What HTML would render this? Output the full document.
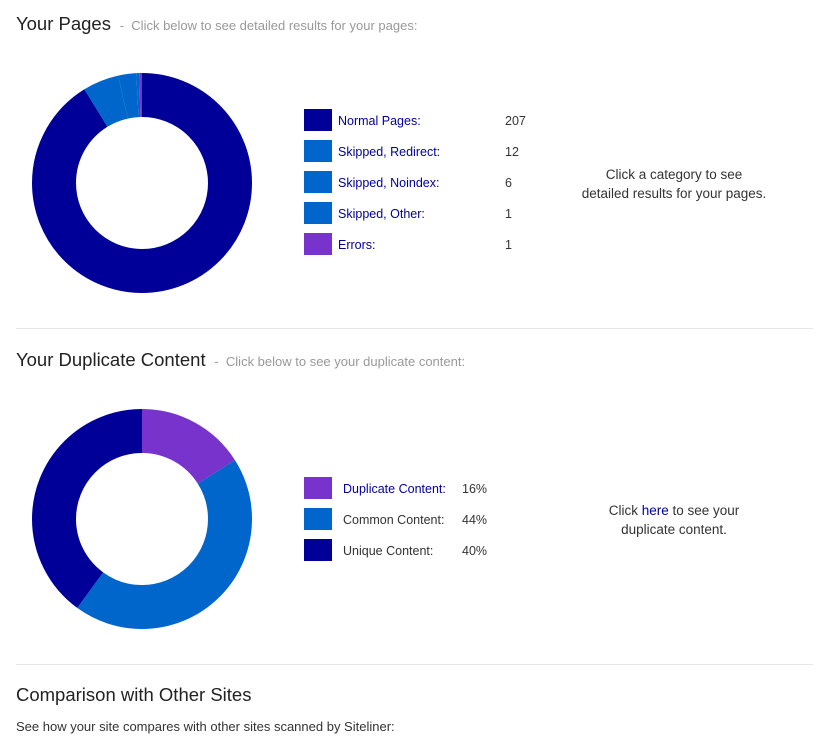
<!DOCTYPE html>
<html><head><style>
body{margin:0;width:832px;height:748px;background:#fff;font-family:"Liberation Sans",sans-serif;color:#333;position:relative;overflow:hidden}
.a{position:absolute;white-space:nowrap}
.sub{font-size:13px;color:#999}
.sq{position:absolute;width:28px;height:22px}
.t{font-size:12.5px}
.lk{color:#000099}
.hr{position:absolute;left:16px;width:797px;height:1px;background:#e6e6e6}
</style></head><body>
<div class="a" style="left:16px;top:13px;font-size:18.5px;color:#222">Your Pages <span class="sub">&nbsp;-&nbsp; Click below to see detailed results for your pages:</span></div>
<svg class="a" style="left:0;top:0" width="832" height="748">
<g transform="rotate(-90 142 183)" fill="none" stroke-width="44">
<circle cx="142" cy="183" r="88" stroke="#000099" stroke-dasharray="504.21 600" stroke-dashoffset="0"/>
<circle cx="142" cy="183" r="88" stroke="#0066cc" stroke-dasharray="29.23 600" stroke-dashoffset="-504.21"/>
<circle cx="142" cy="183" r="88" stroke="#0066cc" stroke-dasharray="14.61 600" stroke-dashoffset="-533.44"/>
<circle cx="142" cy="183" r="88" stroke="#0066cc" stroke-dasharray="2.44 600" stroke-dashoffset="-548.05"/>
<circle cx="142" cy="183" r="88" stroke="#7733cc" stroke-dasharray="2.44 600" stroke-dashoffset="-550.49"/>
</g>
<g transform="rotate(-90 142 519)" fill="none" stroke-width="44">
<circle cx="142" cy="519" r="88" stroke="#7733cc" stroke-dasharray="88.47 600" stroke-dashoffset="0"/>
<circle cx="142" cy="519" r="88" stroke="#0066cc" stroke-dasharray="243.28 600" stroke-dashoffset="-88.47"/>
<circle cx="142" cy="519" r="88" stroke="#000099" stroke-dasharray="221.17 600" stroke-dashoffset="-331.75"/>
</g>
</svg>
<div class="sq" style="left:304px;top:109px;background:#000099"></div>
<div class="sq" style="left:304px;top:140px;background:#0066cc"></div>
<div class="sq" style="left:304px;top:171px;background:#0066cc"></div>
<div class="sq" style="left:304px;top:202px;background:#0066cc"></div>
<div class="sq" style="left:304px;top:233px;background:#7733cc"></div>
<div class="a t lk" style="left:338px;top:114px">Normal Pages:</div><div class="a t" style="left:505px;top:114px">207</div>
<div class="a t lk" style="left:338px;top:145px">Skipped, Redirect:</div><div class="a t" style="left:505px;top:145px">12</div>
<div class="a t lk" style="left:338px;top:176px">Skipped, Noindex:</div><div class="a t" style="left:505px;top:176px">6</div>
<div class="a t lk" style="left:338px;top:207px">Skipped, Other:</div><div class="a t" style="left:505px;top:207px">1</div>
<div class="a t lk" style="left:338px;top:238px">Errors:</div><div class="a t" style="left:505px;top:238px">1</div>
<div class="a" style="left:574px;top:165px;width:200px;text-align:center;font-size:13.5px;line-height:19px">Click a category to see<br>detailed results for your pages.</div>
<div class="hr" style="top:328px"></div>
<div class="a" style="left:16px;top:349px;font-size:18.5px;color:#222">Your Duplicate Content <span class="sub">&nbsp;-&nbsp; Click below to see your duplicate content:</span></div>
<div class="sq" style="left:304px;top:477px;background:#7733cc"></div>
<div class="sq" style="left:304px;top:508px;background:#0066cc"></div>
<div class="sq" style="left:304px;top:539px;background:#000099"></div>
<div class="a t lk" style="left:343px;top:482px">Duplicate Content:</div><div class="a t" style="left:462px;top:482px">16%</div>
<div class="a t" style="left:343px;top:513px">Common Content:</div><div class="a t" style="left:462px;top:513px">44%</div>
<div class="a t" style="left:343px;top:544px">Unique Content:</div><div class="a t" style="left:462px;top:544px">40%</div>
<div class="a" style="left:574px;top:501px;width:200px;text-align:center;font-size:13.5px;line-height:19px">Click <span class="lk">here</span> to see your<br>duplicate content.</div>
<div class="hr" style="top:664px"></div>
<div class="a" style="left:16px;top:684px;font-size:18.5px;color:#222">Comparison with Other Sites</div>
<div class="a" style="left:16px;top:719px;font-size:13px">See how your site compares with other sites scanned by Siteliner:</div>
</body></html>
